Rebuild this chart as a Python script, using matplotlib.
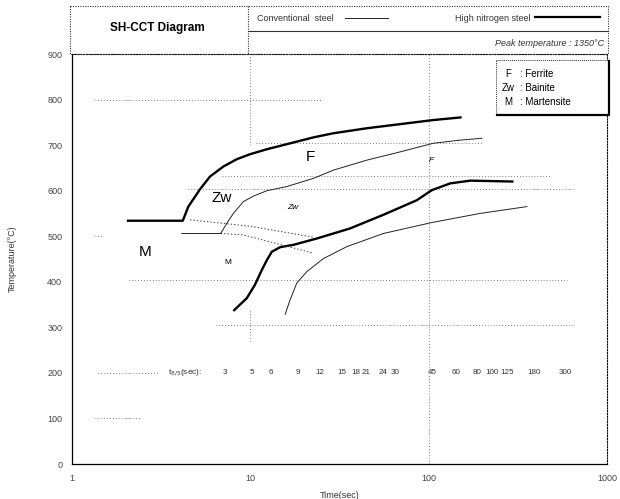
import matplotlib
matplotlib.use("Agg")
import matplotlib.pyplot as plt
from matplotlib.patches import Rectangle

plt.rcParams['font.family'] = ['Liberation Sans', 'DejaVu Sans']

# ---------------- data ----------------
# High nitrogen steel (thick lines)
hn_upper_time = [2.03, 4.18, 4.49, 5.22, 5.94, 7.06, 8.39, 9.96, 12.4, 16.0, 22.6, 29.2, 45, 69, 106, 153]
hn_upper_temp = [534, 534, 565, 603, 631, 653, 669, 680, 691, 702, 717, 726, 737, 746, 755, 761]
hn_lower_time = [8.03, 9.55, 10.6, 11.6, 12.4, 13.2, 14.7, 17.4, 23.6, 36.2, 55.7, 85.8, 104, 132, 171, 299]
hn_lower_temp = [336, 364, 393, 426, 448, 466, 476, 481, 495, 517, 547, 579, 601, 616, 622, 620]
# Conventional steel (thin lines)
cv_upper_time = [4.13, 6.82, 7.37, 8.03, 9.14, 10.4, 12.4, 16.0, 22.6, 29.2, 45, 69, 106, 150, 199]
cv_upper_temp = [506, 506, 528, 550, 576, 588, 600, 609, 627, 645, 667, 685, 704, 711, 715]
cv_lower_time = [15.7, 16.7, 18.2, 20.7, 25.7, 34.7, 55.7, 104, 194, 355]
cv_lower_temp = [329, 360, 397, 422, 451, 477, 506, 530, 550, 565]
# martensite start (dotted)
ms_a_time = [4.59, 9.96, 22.5]
ms_a_temp = [536, 522, 498]
ms_b_time = [6.82, 9.1, 22.5]
ms_b_temp = [506, 503, 463]

# t8/5 cooling time labels along the 200 C row
t85_labels = ['3', '5', '6', '9', '12', '15', '18', '21', '24', '30', '45', '60', '80', '100', '125', '180', '300']
t85_pos = [7.21, 10.2, 13.1, 18.5, 24.6, 32.7, 39.2, 44.5, 55.5, 64.8, 104.5, 142, 187, 228, 276, 390, 582]

# faint dotted reference lines (temperature, time from, time to)
ref_h_temp = [800, 704, 632, 603, 500, 404, 305, 200, 100]
ref_h_from = [1.35, 10.8, 6.9, 4.5, 1.35, 2.1, 6.4, 1.4, 1.35]
ref_h_to = [25.0, 200, 480, 650, 1.5, 600, 650, 3.0, 2.4]
ref_v_time = [10, 100]

x_ticks = [1, 10, 100, 1000]
y_ticks = [0, 100, 200, 300, 400, 500, 600, 700, 800, 900]

# ---------------- figure ----------------
W, H = 620, 499
fig = plt.figure(figsize=(W / 100, H / 100), dpi=100)
L, R, T, B = 72, 607, 54, 464
ax = fig.add_axes([L / W, 1 - B / H, (R - L) / W, (B - T) / H])
ax.set_xscale('log')
ax.set_xlim(1, 1000)
ax.set_ylim(0, 900)

dot = dict(color='#555555', lw=0.6, ls=(0, (1, 2.5)))
for t_, a, b in zip(ref_h_temp, ref_h_from, ref_h_to):
    ax.plot([a, b], [t_, t_], **dot)
ax.plot([ref_v_time[0]] * 2, [700, 900], **dot)
ax.plot([ref_v_time[0]] * 2, [270, 340], **dot)
ax.plot([ref_v_time[1]] * 2, [0, 900], **dot)

ax.plot(hn_upper_time, hn_upper_temp, color='black', lw=1.7, solid_capstyle='butt')
ax.plot(hn_lower_time, hn_lower_temp, color='black', lw=1.7, solid_capstyle='butt')
ax.plot(cv_upper_time, cv_upper_temp, color='#222222', lw=0.7)
ax.plot(cv_lower_time, cv_lower_temp, color='#222222', lw=0.7)
ax.plot(ms_a_time, ms_a_temp, color='#444444', lw=0.7, ls=(0, (1.5, 2)))
ax.plot(ms_b_time, ms_b_temp, color='#444444', lw=0.7, ls=(0, (1.5, 2)))

# region labels
ax.text(21.6, 674, 'F', fontsize=11, ha='center', va='center')
ax.text(6.9, 584, 'Zw', fontsize=11, ha='center', va='center')
ax.text(2.57, 465, 'M', fontsize=11, ha='center', va='center')
ax.text(104, 667, 'F', fontsize=6, ha='center', va='center', style='italic')
ax.text(17.4, 562, 'Zw', fontsize=6, ha='center', va='center', style='italic')
ax.text(7.5, 443, 'M', fontsize=6, ha='center', va='center')

# t8/5 row
ax.text(4.3, 200, r't$_{8/5}$(sec):', fontsize=6, ha='center', va='center', color='#333333')
for lab, pos in zip(t85_labels, t85_pos):
    ax.text(pos, 200, lab, fontsize=5.8, ha='center', va='center', color='#333333')

ax.set_xticks(x_ticks)
ax.set_xticklabels([str(v) for v in x_ticks])
ax.xaxis.set_minor_locator(matplotlib.ticker.NullLocator())
ax.set_yticks(y_ticks)
ax.tick_params(axis='both', length=0, labelsize=6.5, labelcolor='#444444', pad=7)
ax.set_xlabel('Time(sec)', fontsize=6.5, color='#333333', labelpad=6)
ax.set_ylabel('Temperature(°C)', fontsize=6.5, color='#333333', labelpad=22)
ax.spines['left'].set_linewidth(0.9)
ax.spines['bottom'].set_linewidth(0.9)
for s in ['top', 'right']:
    ax.spines[s].set_linestyle((0, (1, 1.5)))
    ax.spines[s].set_linewidth(0.8)
ax.spines['bottom'].set_linestyle((0, (2, 1)))

# ---------------- overlay (header + legend box) ----------------
ov = fig.add_axes([0, 0, 1, 1], facecolor='none')
ov.set_xlim(0, W)
ov.set_ylim(H, 0)
ov.axis('off')
bd = dict(color='#333333', lw=0.8, ls=(0, (1, 1.2)))
ov.plot([70, 608, 608, 70, 70], [6, 6, 54, 54, 6], **bd)
ov.plot([248, 248], [6, 54], **bd)
ov.plot([248, 608], [31, 31], color='#333333', lw=0.8)
ov.text(157, 28, 'SH-CCT Diagram', fontsize=8.5, fontweight='bold', ha='center', va='center')
ov.text(257, 18, 'Conventional  steel', fontsize=6.5, ha='left', va='center', color='#333333')
ov.plot([345, 388], [18, 18], color='#222222', lw=0.7)
ov.text(455, 18, 'High nitrogen steel', fontsize=6.5, ha='left', va='center', color='#333333')
ov.plot([535, 600], [17, 17], color='black', lw=1.6)
ov.text(604, 43, 'Peak temperature : 1350°C', fontsize=6.5, ha='right', va='center',
        style='italic', color='#333333')

# legend box
ov.add_patch(Rectangle((496, 60), 112, 54, fill=True, facecolor='white',
                       edgecolor='#333333', lw=0.7, ls=(0, (1, 1))))
ov.plot([497, 609, 609], [115, 115, 61], color='black', lw=1.6)
rows = [('F', 'Ferrite', 74), ('Zw', 'Bainite', 88), ('M', 'Martensite', 102)]
for a, b, yy in rows:
    ov.text(508, yy, a, fontsize=7, ha='center', va='center')
    ov.text(520, yy, ': ' + b, fontsize=7, ha='left', va='center')

fig.savefig('out.png', dpi=100)
